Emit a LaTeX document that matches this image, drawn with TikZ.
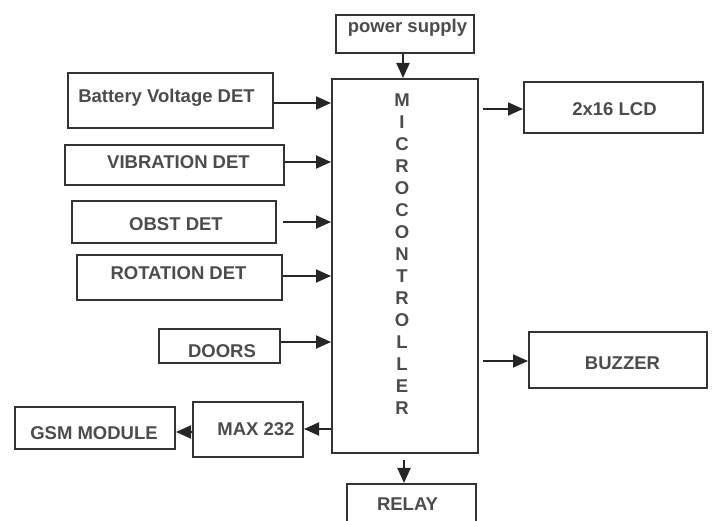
\documentclass[tikz,border=0pt]{standalone}
\usepackage{fontspec}
\setmainfont{Liberation Sans}
\usetikzlibrary{arrows.meta}
\begin{document}
\begin{tikzpicture}[x=1pt,y=-1pt,
  blk/.style={draw=black!80, line width=2pt, inner sep=0pt, minimum width=#1},
  txt/.style={font=\bfseries\fontsize{18.5}{20}\selectfont, text=black!70, inner sep=0pt, anchor=base},
  arr/.style={draw=black!85, line width=1.9pt, -{Triangle[length=15pt,width=13pt]}}]
\clip (0,0) rectangle (713,521);
\fill[white] (0,0) rectangle (713,521);
% boxes
\node[blk=138pt, minimum height=38pt] (ps) at (405,34) {};
\node[blk=146pt, minimum height=374pt] (mc) at (405,266) {};
\node[blk=205pt, minimum height=55pt] (bat) at (170.5,100.5) {};
\node[blk=219pt, minimum height=40pt] (vib) at (174.5,165) {};
\node[blk=204pt, minimum height=42pt] (obst) at (174,222) {};
\node[blk=205pt, minimum height=45pt] (rot) at (179.5,277.5) {};
\node[blk=121pt, minimum height=34pt] (doors) at (219.5,346) {};
\node[blk=110pt, minimum height=55pt] (max) at (248,429.5) {};
\node[blk=160pt, minimum height=42pt] (gsm) at (95,428) {};
\node[blk=129pt, minimum height=51pt] (relay) at (411.5,509.5) {};
\node[blk=179pt, minimum height=51pt] (lcd) at (613.5,107.5) {};
\node[blk=178pt, minimum height=56pt] (buz) at (618,360) {};
% texts
\node[txt] (tps) at (407.5,33) {power supply};
\node[txt] (tbat) at (166.5,103) {Battery Voltage DET};
\node[txt] (tvib) at (178.5,168.5) {VIBRATION DET};
\node[txt] (tobst) at (176,230.5) {OBST DET};
\node[txt] (trot) at (178.5,280) {ROTATION DET};
\node[txt] (tdoors) at (222,358) {DOORS};
\node[txt] (tmax) at (256,436) {MAX 232};
\node[txt] (tgsm) at (94,440) {GSM MODULE};
\node[txt] (trelay) at (407.5,511) {RELAY};
\node[txt] (tlcd) at (614.5,116) {2x16 LCD};
\node[txt] (tbuz) at (622.5,370) {BUZZER};
\foreach \l [count=\i from 0] in {M,I,C,R,O,C,O,N,T,R,O,L,L,E,R}
  \node[txt] (mc\i) at (402,106.5+22*\i) {\l};
% connectors
\draw[arr] (ps.south -| 403,0) -- (mc.north -| 403,0);
\draw[arr] (bat.east |- 0,103) -- (mc.west |- 0,103);
\draw[arr] (vib.east |- 0,162) -- (mc.west |- 0,162);
\draw[arr, shorten <=6pt] (obst.east |- 0,222) -- (mc.west |- 0,222);
\draw[arr] (rot.east |- 0,276) -- (mc.west |- 0,276);
\draw[arr] (doors.east |- 0,342) -- (mc.west |- 0,342);
\draw[arr] (mc.west |- 0,429) -- (max.east |- 0,429);
\draw[arr] (max.west |- 0,432) -- (gsm.east |- 0,432);
\draw[arr, shorten <=4pt] (mc.east |- 0,109) -- (lcd.west |- 0,109);
\draw[arr, shorten <=4pt] (mc.east |- 0,361) -- (buz.west |- 0,361);
\draw[arr, shorten <=6pt] (mc.south -| 404,0) -- (relay.north -| 404,0);
\end{tikzpicture}
\end{document}
